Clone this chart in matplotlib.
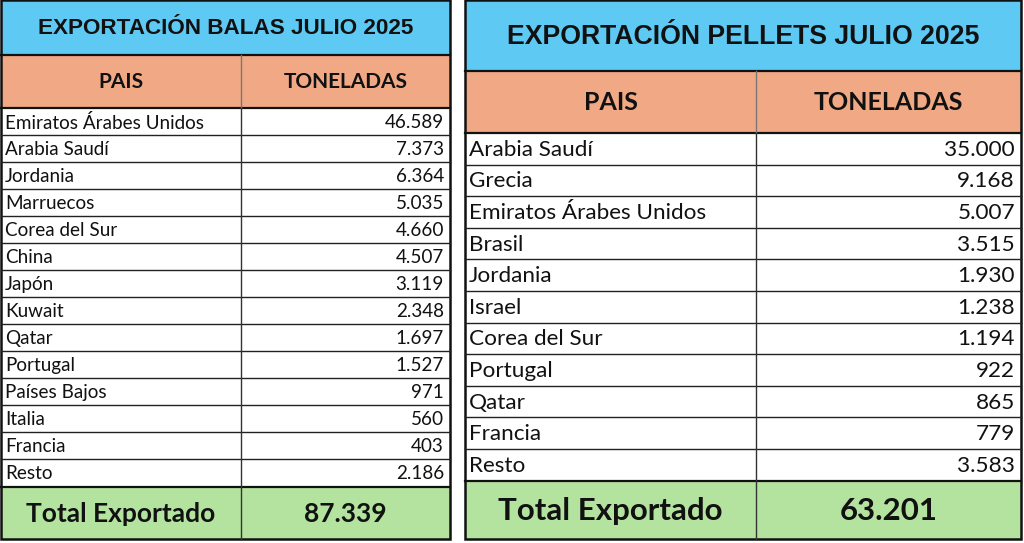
import matplotlib
matplotlib.use("Agg")
import matplotlib.pyplot as plt
from matplotlib.patches import Rectangle

# data
balas_paises = ["Emiratos Árabes Unidos", "Arabia Saudí", "Jordania", "Marruecos",
                "Corea del Sur", "China", "Japón", "Kuwait", "Qatar", "Portugal",
                "Países Bajos", "Italia", "Francia", "Resto"]
balas_ton = ["46.589", "7.373", "6.364", "5.035", "4.660", "4.507", "3.119",
             "2.348", "1.697", "1.527", "971", "560", "403", "2.186"]
balas_total = "87.339"

pellets_paises = ["Arabia Saudí", "Grecia", "Emiratos Árabes Unidos", "Brasil",
                  "Jordania", "Israel", "Corea del Sur", "Portugal", "Qatar",
                  "Francia", "Resto"]
pellets_ton = ["35.000", "9.168", "5.007", "3.515", "1.930", "1.238", "1.194",
               "922", "865", "779", "3.583"]
pellets_total = "63.201"

BLUE = "#5ec9f3"
SALMON = "#f0a984"
GREEN = "#b3e39f"

W, H = 1024, 543
fig = plt.figure(figsize=(W / 100, H / 100), dpi=100)
ax = fig.add_axes([0, 0, 1, 1])
ax.set_xlim(0, W)
ax.set_ylim(H, 0)
ax.axis("off")

body_font = "Lato"
title_font = "Liberation Sans"


def draw_table(x0, x1, xs, y_title, y_head, y_total, y_end, title, paises, tons, total,
               fs_title, fs_head, fs_body, fs_total):
    # title row
    ax.add_patch(Rectangle((x0, 0), x1 - x0, y_title, fc=BLUE, ec="none"))
    ax.text((x0 + x1) / 2, y_title / 2 + 1, title, ha="center", va="center",
            fontsize=fs_title, fontweight="bold", family=title_font, color="#111")
    # header
    ax.add_patch(Rectangle((x0, y_title), x1 - x0, y_head - y_title, fc=SALMON, ec="none"))
    yh = (y_title + y_head) / 2 + 1
    ax.text((x0 + xs) / 2, yh, "PAIS", ha="center", va="center",
            fontsize=fs_head, fontweight="bold", family=body_font, color="#111")
    ax.text((xs + x1) / 2, yh, "TONELADAS", ha="center", va="center",
            fontsize=fs_head, fontweight="bold", family=body_font, color="#111")
    # body rows
    n = len(paises)
    rh = (y_total - y_head) / n
    for i, (p, t) in enumerate(zip(paises, tons)):
        yt = y_head + i * rh
        ax.text(x0 + 4, yt + rh / 2 + 1, p, ha="left", va="center",
                fontsize=fs_body, family=body_font, color="#111")
        ax.text(x1 - 6, yt + rh / 2 + 1, t, ha="right", va="center",
                fontsize=fs_body, family=body_font, color="#111")
        if i > 0:
            ax.plot([x0, x1], [yt, yt], color="#222", lw=1.0)
    # total
    ax.add_patch(Rectangle((x0, y_total), x1 - x0, y_end - y_total, fc=GREEN, ec="none"))
    yt = (y_total + y_end) / 2 + 1
    ax.text((x0 + xs) / 2, yt, "Total Exportado", ha="center", va="center",
            fontsize=fs_total, fontweight="bold", family=body_font, color="#111")
    ax.text((xs + x1) / 2, yt, total, ha="center", va="center",
            fontsize=fs_total, fontweight="bold", family=body_font, color="#111")
    # lines
    for y in (y_title, y_head, y_total):
        ax.plot([x0, x1], [y, y], color="#111", lw=1.6)
    ax.plot([xs, xs], [y_title, y_head], color="#777", lw=1.0)
    ax.plot([xs, xs], [y_head, y_end], color="#333", lw=1.0)
    ax.add_patch(Rectangle((x0, 0), x1 - x0, y_end, fc="none", ec="#111", lw=1.8))


draw_table(1, 450, 241, 55, 108, 486.5, 539, "EXPORTACIÓN BALAS JULIO 2025",
           balas_paises, balas_ton, balas_total, 16.2, 15, 13.6, 19)
draw_table(465, 1021, 756, 71, 133, 480.5, 539, "EXPORTACIÓN PELLETS JULIO 2025",
           pellets_paises, pellets_ton, pellets_total, 19.2, 18, 16.2, 22.5)

fig.savefig("out.png", dpi=100, facecolor="white")
